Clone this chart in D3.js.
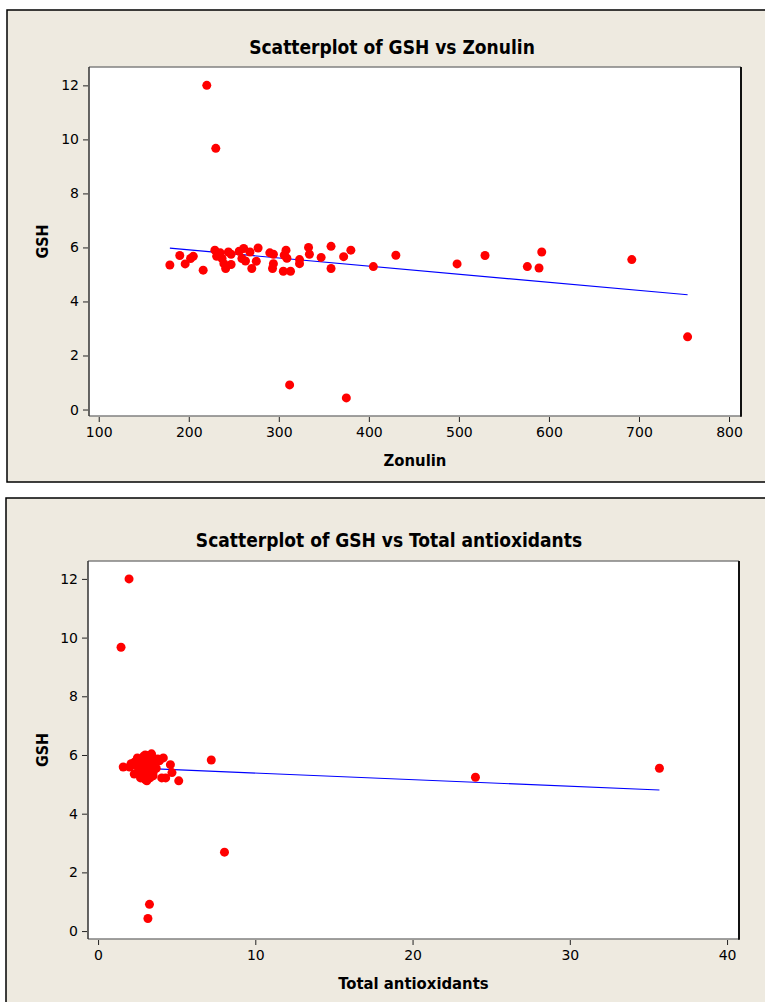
<!DOCTYPE html>
<html>
<head>
<meta charset="utf-8">
<script src="https://cdn.jsdelivr.net/npm/d3@7/dist/d3.min.js"></script>
<style>
  html, body { margin: 0; padding: 0; background: #ffffff; }
  svg { display: block; }
</style>
</head>
<body>
<svg id="chart" width="765" height="1002"></svg>
<script>
// ---------------- data ----------------
const gsh = [12.0, 9.67, 5.35, 5.70, 5.39, 5.59, 5.67, 5.16, 5.90, 5.67,
             5.80, 5.59, 5.40, 5.22, 5.83, 5.75, 5.37, 5.86, 5.96, 5.59,
             5.50, 5.83, 5.22, 5.49, 5.98, 5.80, 5.75, 5.40, 5.22, 5.12,
             5.90, 5.71, 5.60, 5.12, 5.55, 5.40, 6.00, 5.75, 5.63, 6.04,
             5.22, 5.66, 5.90, 5.29, 5.71, 0.91, 0.43, 5.39, 5.70, 5.29,
             5.24, 5.83, 5.55, 2.69];
const zonulin = [220, 230, 179, 190, 196, 202, 205, 216, 229, 231,
                 235, 237, 239, 241, 244, 247, 247, 256, 261, 259,
                 263, 268, 270, 275, 277, 290, 294, 294, 293, 305,
                 308, 306, 309, 313, 323, 323, 333, 334, 347, 358,
                 358, 372, 380, 405, 430, 312, 375, 498, 529, 576,
                 589, 592, 692, 754];
const antioxidants = [1.97, 1.46, 2.3, 2.1, 2.6, 1.6, 2.2, 3.0, 2.5, 4.6,
                      2.8, 3.3, 3.5, 2.7, 3.1, 3.6, 2.4, 3.8, 2.9, 2.0,
                      3.4, 2.6, 4.3, 2.8, 3.2, 3.9, 2.3, 3.0, 3.3, 5.13,
                      3.5, 2.7, 3.1, 3.1, 3.7, 4.7, 3.0, 3.3, 2.5, 3.4,
                      4.05, 3.0, 4.15, 2.9, 3.6, 3.27, 3.17, 3.2, 2.95, 3.5,
                      24.0, 7.2, 35.7, 8.04];
// fitted regression lines
const fitZonulin = [6.51, -0.0030];      // intercept, slope
const fitAntiox  = [5.61, -0.0225];
const yTicks = [0, 2, 4, 6, 8, 10, 12];
const xTicksZonulin = [100, 200, 300, 400, 500, 600, 700, 800];
const xTicksAntiox = [0, 10, 20, 30, 40];

// ---------------- drawing ----------------
const svg = d3.select("#chart");
const FONT = '"DejaVu Sans", Verdana, sans-serif';
const FONTC = '"DejaVu Sans Condensed", "DejaVu Sans", sans-serif';

function panel(cfg) {
  const g = svg.append("g");
  // outer frame
  g.append("rect")
    .attr("x", cfg.frame[0]).attr("y", cfg.frame[1])
    .attr("width", cfg.frame[2]).attr("height", cfg.frame[3])
    .attr("fill", "#eeeae0").attr("stroke", "#000").attr("stroke-width", 1.5);

  const L = cfg.plot[0], T = cfg.plot[1], R = cfg.plot[2], B = cfg.plot[3];
  const x = d3.scaleLinear().domain(cfg.xDomain).range([L, R]);
  const y = d3.scaleLinear().domain(cfg.yDomain).range([B, T]);

  g.append("rect").attr("x", L).attr("y", T).attr("width", R - L).attr("height", B - T)
    .attr("fill", "#ffffff");

  // title
  g.append("text").attr("x", cfg.titleX).attr("y", cfg.titleY)
    .attr("text-anchor", "middle").attr("font-family", FONTC)
    .attr("font-weight", "bold").attr("font-size", 19).text(cfg.title);

  // regression line
  const [a, b] = cfg.fit;
  const xs = d3.extent(cfg.xs);
  g.append("line")
    .attr("x1", x(xs[0])).attr("y1", y(a + b * xs[0]))
    .attr("x2", x(xs[1])).attr("y2", y(a + b * xs[1]))
    .attr("stroke", "#0000ff").attr("stroke-width", 1.2);

  // points
  g.append("g").selectAll("circle").data(cfg.xs.map((v, i) => [v, cfg.ys[i]]))
    .join("circle")
    .attr("cx", d => x(d[0])).attr("cy", d => y(d[1])).attr("r", 4.5)
    .attr("fill", "#ff0000");

  // plot borders
  g.append("line").attr("x1", L).attr("x2", R).attr("y1", T).attr("y2", T)
    .attr("stroke", "#808080").attr("stroke-width", 1.5);
  g.append("line").attr("x1", L).attr("x2", R).attr("y1", B).attr("y2", B)
    .attr("stroke", "#808080").attr("stroke-width", 1.5);
  g.append("line").attr("x1", L).attr("x2", L).attr("y1", T).attr("y2", B)
    .attr("stroke", "#333").attr("stroke-width", 1.5);
  g.append("line").attr("x1", R).attr("x2", R).attr("y1", T).attr("y2", B + 0.75)
    .attr("stroke", "#111").attr("stroke-width", 2);

  // axes
  const xa = g.append("g").attr("transform", `translate(0,${B + 1})`)
    .call(d3.axisBottom(x).tickValues(cfg.xTicks).tickSize(5).tickSizeOuter(0).tickPadding(5));
  xa.select(".domain").remove();
  xa.selectAll(".tick line").attr("stroke", "#222");
  const ya = g.append("g").attr("transform", `translate(${L - 1},0)`)
    .call(d3.axisLeft(y).tickValues(yTicks).tickSize(5).tickSizeOuter(0).tickPadding(4));
  ya.select(".domain").remove();
  ya.selectAll(".tick line").attr("stroke", "#222");
  g.selectAll(".tick text").attr("font-family", FONT).attr("font-size", 14).attr("fill", "#000");

  // axis titles
  g.append("text").attr("x", (L + R) / 2).attr("y", cfg.xTitleY)
    .attr("text-anchor", "middle").attr("font-family", FONTC)
    .attr("font-weight", "bold").attr("font-size", 16.5).text(cfg.xTitle);
  g.append("text")
    .attr("transform", `translate(${cfg.yTitleX},${(T + B) / 2}) rotate(-90)`)
    .attr("text-anchor", "middle").attr("font-family", FONTC)
    .attr("font-weight", "bold").attr("font-size", 16).text("GSH");
}

panel({
  frame: [7, 10, 790, 472],
  plot: [89, 67, 741, 416],
  xDomain: [89.2, 813.3],
  yDomain: [-0.24, 12.68],
  xs: zonulin, ys: gsh, fit: fitZonulin,
  xTicks: xTicksZonulin,
  title: "Scatterplot of GSH vs Zonulin", titleX: 392, titleY: 54,
  xTitle: "Zonulin", xTitleY: 466, yTitleX: 48
});

panel({
  frame: [6, 498, 790, 520],
  plot: [88, 561, 739, 939],
  xDomain: [-0.64, 40.76],
  yDomain: [-0.27, 12.61],
  xs: antioxidants, ys: gsh, fit: fitAntiox,
  xTicks: xTicksAntiox,
  title: "Scatterplot of GSH vs Total antioxidants", titleX: 389, titleY: 547,
  xTitle: "Total antioxidants", xTitleY: 989, yTitleX: 48
});
</script>
</body>
</html>
